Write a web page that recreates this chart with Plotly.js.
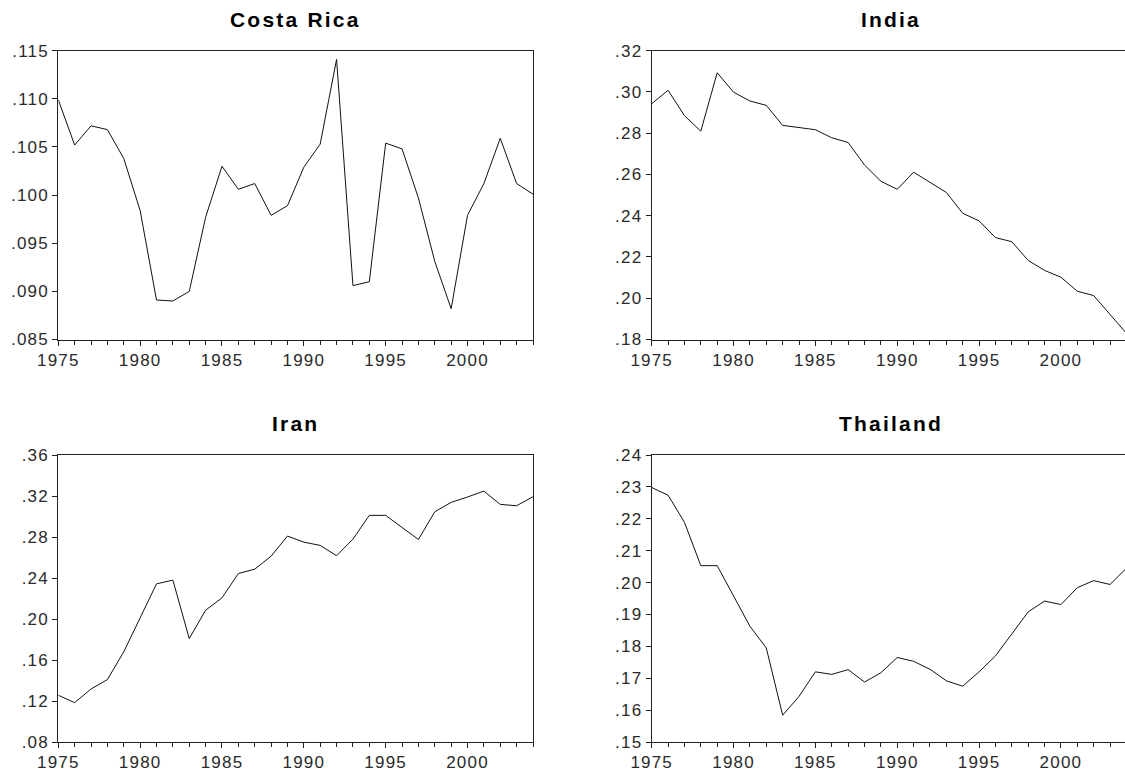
<!DOCTYPE html>
<html>
<head>
<meta charset="utf-8">
<script src="https://cdn.plot.ly/plotly-3.0.1.min.js"></script>
<style>
  html, body { margin: 0; padding: 0; background: #fff; }
  #chart { width: 1125px; height: 771px; }
  [class$="tick"] text { letter-spacing: 1.2px; }
  .annotation-text { letter-spacing: 2.2px; }
</style>
</head>
<body>
<div id="chart"></div>
<script>
const years = [1975,1976,1977,1978,1979,1980,1981,1982,1983,1984,1985,1986,1987,1988,1989,
               1990,1991,1992,1993,1994,1995,1996,1997,1998,1999,2000,2001,2002,2003,2004];

const costaRica = [0.1099,0.1052,0.1072,0.1068,0.1038,0.0984,0.0891,0.0890,0.0900,0.0977,
                   0.1030,0.1006,0.1012,0.0979,0.0989,0.1029,0.1053,0.1141,0.0906,0.0910,
                   0.1054,0.1048,0.0997,0.0931,0.0882,0.0979,0.1012,0.1059,0.1012,0.1001];

const india = [0.2943,0.3008,0.2885,0.2810,0.3093,0.2999,0.2956,0.2935,0.2838,0.2827,
               0.2817,0.2778,0.2755,0.2646,0.2567,0.2528,0.2611,0.2562,0.2513,0.2412,
               0.2375,0.2294,0.2274,0.2183,0.2135,0.2102,0.2034,0.2013,0.1920,0.1830];

const iran = [0.1256,0.1184,0.1317,0.1409,0.1680,0.2010,0.2343,0.2379,0.1809,0.2086,
              0.2206,0.2444,0.2486,0.2613,0.2809,0.2750,0.2718,0.2617,0.2779,0.3011,
              0.3011,0.2893,0.2776,0.3046,0.3138,0.3190,0.3248,0.3118,0.3105,0.3193];

const thailand = [0.2298,0.2274,0.2189,0.2053,0.2053,0.1960,0.1863,0.1795,0.1584,0.1643,
                  0.1720,0.1712,0.1727,0.1688,0.1717,0.1765,0.1753,0.1728,0.1692,0.1675,
                  0.1720,0.1770,0.1840,0.1908,0.1942,0.1931,0.1984,0.2006,0.1994,0.2045];

const titles = ["Costa Rica", "India", "Iran", "Thailand"];

const xTickVals = [1975, 1980, 1985, 1990, 1995, 2000];
const xTickText = ["1975", "1980", "1985", "1990", "1995", "2000"];

const crTickVals = [0.085, 0.090, 0.095, 0.100, 0.105, 0.110, 0.115];
const crTickText = [".085", ".090", ".095", ".100", ".105", ".110", ".115"];
const inTickVals = [0.18, 0.20, 0.22, 0.24, 0.26, 0.28, 0.30, 0.32];
const inTickText = [".18", ".20", ".22", ".24", ".26", ".28", ".30", ".32"];
const irTickVals = [0.08, 0.12, 0.16, 0.20, 0.24, 0.28, 0.32, 0.36];
const irTickText = [".08", ".12", ".16", ".20", ".24", ".28", ".32", ".36"];
const thTickVals = [0.15, 0.16, 0.17, 0.18, 0.19, 0.20, 0.21, 0.22, 0.23, 0.24];
const thTickText = [".15", ".16", ".17", ".18", ".19", ".20", ".21", ".22", ".23", ".24"];

const W = 1125, H = 771;
const tickFont = { family: "Liberation Sans, Arial, sans-serif", size: 17, color: "#2a2a2a" };
const lineColor = "#222";

function trace(y, xa, ya) {
  return { x: years, y: y, xaxis: xa, yaxis: ya, type: "scatter", mode: "lines",
           line: { color: "#111", width: 1 }, hoverinfo: "x+y", showlegend: false };
}

function xAxis(domain, range, anchor) {
  return {
    domain: domain, range: range, anchor: anchor,
    tickmode: "array", tickvals: xTickVals, ticktext: xTickText,
    ticks: "outside", ticklen: 5, tickwidth: 1, tickcolor: lineColor,
    minor: { tickmode: "linear", tick0: 1975, dtick: 1, ticks: "outside", ticklen: 4, tickcolor: lineColor, showgrid: false },
    showline: true, linecolor: lineColor, linewidth: 1, mirror: true,
    showgrid: false, zeroline: false, tickfont: tickFont, fixedrange: true
  };
}
function yAxis(domain, range, vals, text, anchor, mirror) {
  return {
    domain: domain, range: range, anchor: anchor,
    tickmode: "array", tickvals: vals, ticktext: text,
    ticks: "outside", ticklen: 5, tickwidth: 1, tickcolor: lineColor,
    showline: true, linecolor: lineColor, linewidth: 1, mirror: mirror,
    showgrid: false, zeroline: false, tickfont: tickFont, fixedrange: true
  };
}

const leftDom = [58.3 / W, 533 / W];
const rightDom = [651.7 / W, 1];
const topDom = [1 - 339.5 / H, 1 - 50.7 / H];
const botDom = [1 - 742 / H, 1 - 455 / H];
const rightRangeMax = 1975 + (W - 651.7) / ((533 - 58.3) / 29);

const data = [
  trace(costaRica, "x", "y"),
  trace(india, "x2", "y2"),
  trace(iran, "x3", "y3"),
  trace(thailand, "x4", "y4")
];

const titleFont = { family: "Liberation Sans, Arial, sans-serif", size: 21, color: "#000", weight: "bold" };
function title(text, xpx, ypx) {
  return { text: "<b>" + text + "</b>", xref: "paper", yref: "paper", x: xpx / W, y: 1 - ypx / H,
           xanchor: "center", yanchor: "middle", showarrow: false, font: titleFont };
}

const layout = {
  width: W, height: H,
  margin: { l: 0, r: 0, t: 0, b: 0 },
  paper_bgcolor: "#fff", plot_bgcolor: "#fff",
  xaxis: xAxis(leftDom, [1975, 2004], "y"),
  yaxis: yAxis(topDom, [0.085, 0.115], crTickVals, crTickText, "x", true),
  xaxis2: xAxis(rightDom, [1975, rightRangeMax], "y2"),
  yaxis2: yAxis(topDom, [0.18, 0.32], inTickVals, inTickText, "x2", false),
  xaxis3: xAxis(leftDom, [1975, 2004], "y3"),
  yaxis3: yAxis(botDom, [0.08, 0.36], irTickVals, irTickText, "x3", true),
  xaxis4: xAxis(rightDom, [1975, rightRangeMax], "y4"),
  yaxis4: yAxis(botDom, [0.15, 0.24], thTickVals, thTickText, "x4", false),
  annotations: [
    title(titles[0], 295, 19.5),
    title(titles[1], 891, 19.5),
    title(titles[2], 295, 423),
    title(titles[3], 891, 423)
  ]
};

Plotly.newPlot("chart", data, layout, { staticPlot: true, displayModeBar: false });
</script>
</body>
</html>
